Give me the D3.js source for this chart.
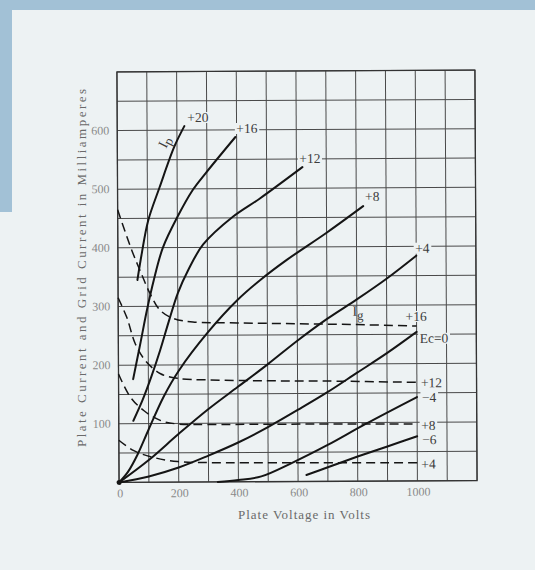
<!DOCTYPE html>
<html>
<head>
<meta charset="utf-8">
<script src="https://cdn.jsdelivr.net/npm/d3@7"></script>
<style>
  html, body { margin: 0; padding: 0; background: #edf2f3; }
  svg { display: block; }
  text { font-family: "Liberation Serif", "DejaVu Serif", serif; }
</style>
</head>
<body>
<svg id="chart" width="535" height="570"></svg>
<script>
// Plate characteristics of a power triode: plate current Ip (solid) and grid current Ig (dashed)
// for several grid voltages Ec. Points are [plate volts, milliamperes].

const xTicks = [0, 200, 400, 600, 800, 1000];
const yTicks = [100, 200, 300, 400, 500, 600];

// Plate current, solid curves
const ipP20 = [[65, 345], [80, 390], [102, 446], [141, 503], [191, 572], [225, 607]];
const ipP16 = [[49, 176], [75, 240], [97, 295], [120, 345], [151, 400], [200, 452], [252, 498], [298, 528], [396, 588]];
const ipP12 = [[49, 105], [80, 140], [110, 180], [140, 225], [170, 275], [200, 322], [236, 362], [286, 405], [386, 452], [477, 483], [620, 536]];
const ipP8  = [[0, 0], [30, 18], [63, 48], [100, 90], [150, 145], [202, 190], [300, 255], [400, 310], [477, 344], [566, 378], [700, 424], [823, 469]];
const ipP4  = [[0, 0], [100, 38], [200, 82], [300, 124], [400, 162], [500, 200], [600, 240], [700, 277], [800, 310], [900, 345], [1000, 384]];
const ipE0  = [[0, 0], [100, 10], [200, 25], [300, 45], [400, 67], [500, 93], [600, 122], [700, 152], [800, 185], [900, 218], [1000, 254]];
const ipM4  = [[331, 0], [400, 3], [477, 9], [577, 31], [700, 62], [829, 98], [1000, 143]];
const ipM6  = [[628, 11], [700, 24], [800, 42], [900, 59], [1000, 76]];

// Grid current, dashed curves
const igP16 = [[0, 465], [45, 398], [75, 360], [107, 322], [141, 293], [185, 279], [250, 273], [400, 271], [600, 269], [800, 267], [1000, 264]];
const igP12 = [[0, 315], [29, 281], [57, 236], [91, 207], [141, 185], [197, 177], [300, 174], [500, 172], [700, 171], [1000, 168]];
const igP8  = [[0, 185], [40, 145], [85, 122], [141, 105], [200, 99], [300, 98], [500, 98], [1000, 97]];
const igP4  = [[0, 72], [50, 54], [118, 42], [197, 35], [300, 33], [600, 32], [1000, 31]];

const plateCurves = [ipP20, ipP16, ipP12, ipP8, ipP4, ipE0, ipM4, ipM6];
const gridCurves = [igP16, igP12, igP8, igP4];

const W = 535, H = 570;
const paper = "#edf2f3", band = "#a2c1d6", ink = "#151515";
const svg = d3.select("#chart");

// page: light paper with a blue band at the top and upper left
svg.append("rect").attr("width", W).attr("height", H).attr("fill", paper);
svg.append("rect").attr("width", W).attr("height", 10).attr("fill", band);
svg.append("rect").attr("width", 12).attr("height", 212).attr("fill", band);

const plot = { left: 118, top: 71, width: 358, height: 410.5 };
const x = d3.scaleLinear().domain([0, 1200]).range([0, plot.width]);
const y = d3.scaleLinear().domain([0, 700]).range([plot.height, 0]);

// the printed chart sits very slightly askew on the page
const cx = plot.left + plot.width / 2, cy = plot.top + plot.height / 2;
const g = svg.append("g")
  .attr("transform", `rotate(-0.3 ${cx} ${cy}) translate(${plot.left},${plot.top})`);

// grid: 100 V by 50 mA
const grid = g.append("g").attr("stroke", "#4a4a4a").attr("stroke-width", 1).attr("fill", "none");
grid.selectAll("line.v").data(d3.range(0, 1201, 100)).join("line")
  .attr("x1", d => x(d)).attr("x2", d => x(d)).attr("y1", 0).attr("y2", plot.height);
grid.selectAll("line.h").data(d3.range(0, 701, 50)).join("line")
  .attr("y1", d => y(d)).attr("y2", d => y(d)).attr("x1", 0).attr("x2", plot.width);
g.append("rect").attr("width", plot.width).attr("height", plot.height)
  .attr("fill", "none").attr("stroke", "#333").attr("stroke-width", 1.3);

// tick labels
const tickStyle = s => s.attr("font-size", 12).attr("fill", "#8a8a8a");
g.selectAll("text.yt").data(yTicks).join("text")
  .attr("x", -8).attr("y", d => y(d) + 4).attr("text-anchor", "end").text(d => d).call(tickStyle);
g.selectAll("text.xt").data(xTicks).join("text")
  .attr("x", d => x(d) + 1).attr("y", plot.height + 15).attr("text-anchor", "middle").text(d => d).call(tickStyle);

// axis titles
svg.append("text")
  .attr("transform", "translate(86,268) rotate(-90)")
  .attr("text-anchor", "middle").attr("font-size", 13).attr("fill", "#6a6a6a")
  .attr("textLength", 358).attr("lengthAdjust", "spacing")
  .text("Plate Current and Grid Current in Milliamperes");
svg.append("text")
  .attr("x", 304).attr("y", 519)
  .attr("text-anchor", "middle").attr("font-size", 13).attr("fill", "#6a6a6a")
  .attr("textLength", 132).attr("lengthAdjust", "spacing")
  .text("Plate Voltage in Volts");

const line = d3.line().x(d => x(d[0])).y(d => y(d[1])).curve(d3.curveCatmullRom.alpha(0.5));

// grid-current curves
g.append("g").selectAll("path").data(gridCurves).join("path")
  .attr("d", d => line(d)).attr("fill", "none")
  .attr("stroke", ink).attr("stroke-width", 1.5).attr("stroke-dasharray", "9,5");

// plate-current curves
g.append("g").selectAll("path").data(plateCurves).join("path")
  .attr("d", d => line(d)).attr("fill", "none")
  .attr("stroke", ink).attr("stroke-width", 2).attr("stroke-linecap", "round");

// origin blob where the curves meet
g.append("circle").attr("cx", x(0)).attr("cy", y(0)).attr("r", 2.5).attr("fill", ink);

// curve labels placed from each curve's last point, on a paper patch over the grid
const labelLayer = g.append("g");
function curveLabel(txt, pts, dx, dy) {
  const p = pts[pts.length - 1];
  const t = labelLayer.append("text")
    .attr("x", x(p[0]) + dx).attr("y", y(p[1]) + dy)
    .attr("font-size", 13.5).attr("fill", "#3c3c3c").text(txt);
  const b = t.node().getBBox();
  labelLayer.insert("rect", "text")
    .attr("x", b.x - 1.5).attr("y", b.y + 2).attr("width", b.width + 3).attr("height", b.height - 4)
    .attr("fill", paper);
}
curveLabel("+20", ipP20, 3, -4);
curveLabel("+16", ipP16, 1, -4);
curveLabel("+12", ipP12, -3, -4);
curveLabel("+8", ipP8, 2, -5);
curveLabel("+4", ipP4, -1, -3);
curveLabel("+16", igP16, -11, -5);
curveLabel("Ec=0", ipE0, 3, 11);
curveLabel("+12", igP12, 4, 5);
curveLabel("\u22124", ipM4, 5, 5);
curveLabel("+8", igP8, 4, 6);
curveLabel("\u22126", ipM6, 5, 8);
curveLabel("+4", igP4, 4, 6);

// Ip and Ig markers
const ip = g.append("text")
  .attr("transform", `translate(${x(163)},${y(568)}) rotate(-63)`)
  .attr("font-size", 14).attr("fill", "#3c3c3c");
ip.append("tspan").text("I");
ip.append("tspan").attr("dy", 3).attr("font-size", 13).text("p");

const ig = g.append("text")
  .attr("x", x(785)).attr("y", y(282))
  .attr("font-size", 14).attr("fill", "#3c3c3c");
ig.append("tspan").text("I");
ig.append("tspan").attr("dy", 4).attr("font-size", 13).text("g");
</script>
</body>
</html>
